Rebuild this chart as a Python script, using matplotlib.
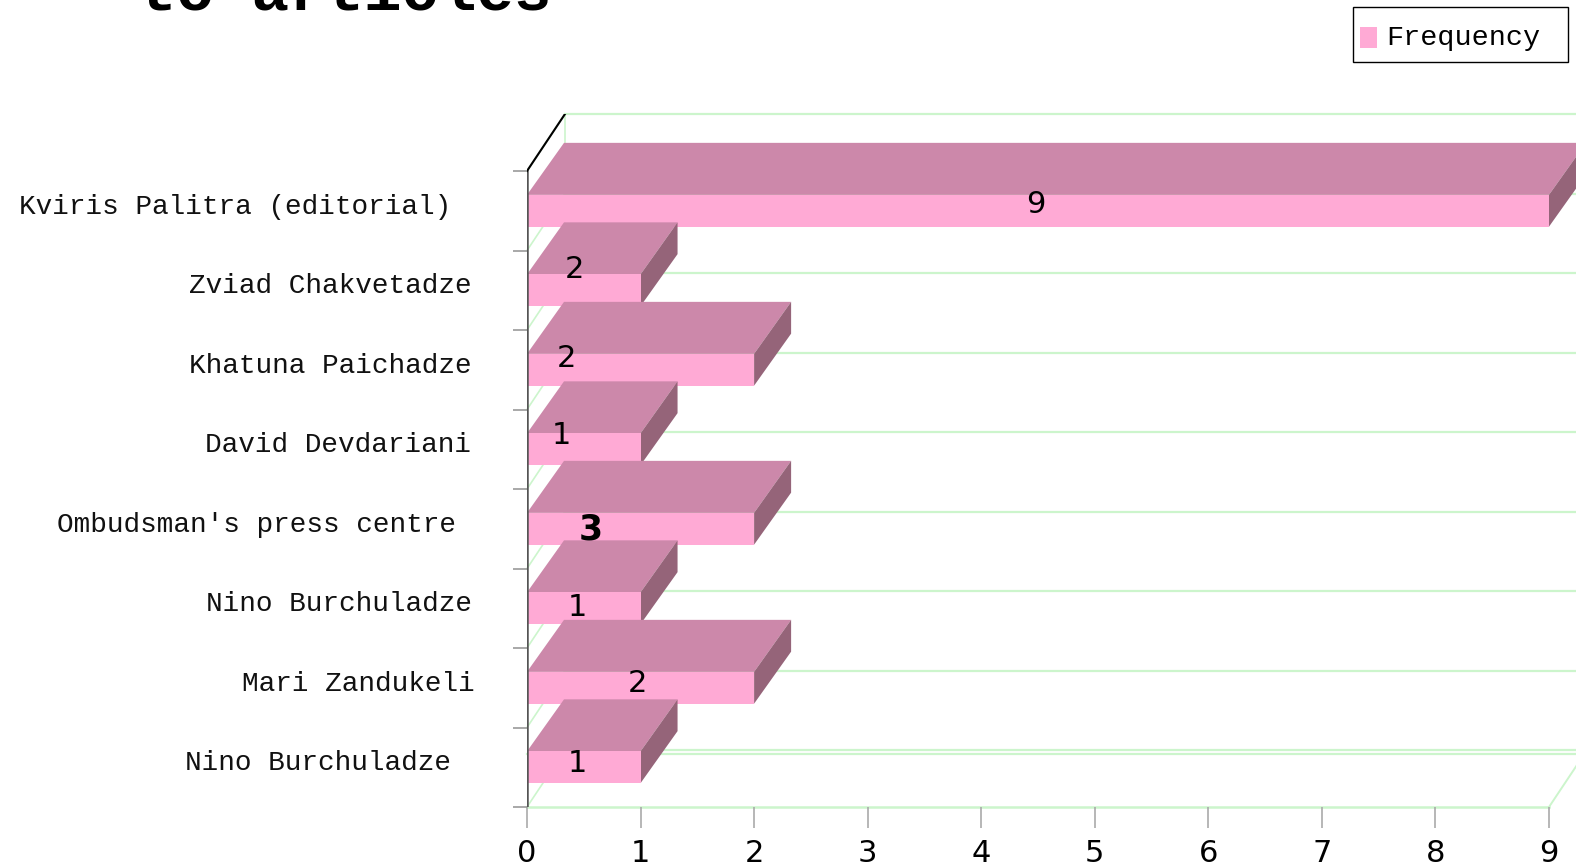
import matplotlib
matplotlib.use("Agg")
import matplotlib.pyplot as plt
from matplotlib.patches import Polygon, Rectangle
from matplotlib.lines import Line2D

# ---------------- data ----------------
categories = ["Kviris Palitra (editorial)", "Zviad Chakvetadze", "Khatuna Paichadze",
              "David Devdariani", "Ombudsman's press centre", "Nino Burchuladze",
              "Mari Zandukeli", "Nino Burchuladze"]
bar_lengths = [9, 1, 2, 1, 2, 1, 2, 1]
shown_values = ["9", "2", "2", "1", "3", "1", "2", "1"]
x_ticks = [0, 1, 2, 3, 4, 5, 6, 7, 8, 9]
series_name = "Frequency"
title_text = "to articles"

# ---------------- style ----------------
front_c = "#FFAAD5"
top_c = "#CC88AA"
side_c = "#956479"
grid_c = "#CCF5CC"
W, H = 1576, 866
X0, YB, YT = 527, 807, 113.6          # plot origin / floor / back-top in pixels
px_x = (1549 - 527) / 9              # pixels per value unit
px_y = (807 - 171) / 8               # pixels per category row
bdx, bdy = 37 / px_x, 52 / px_y      # bar depth
wdx, wdy = 38 / px_x, 57 / px_y      # wall depth
half_h = 0.2
# label placement (data x, row offset) and right edges of category labels (px)
val_x = [4.48, 0.415, 0.345, 0.30, 0.557, 0.442, 0.973, 0.442]
val_dy = [-0.083, -0.261, -0.136, -0.175, 0.013, -0.013, -0.053, -0.041]
cat_right_px = [451, 472, 472, 471, 456, 472, 475, 451]

mono = ["Liberation Mono", "DejaVu Sans Mono"]
narrow = ["Liberation Sans Narrow", "DejaVu Sans"]

fig = plt.figure(figsize=(W / 100, H / 100), dpi=100)
ax = fig.add_axes([X0 / W, (H - YB) / H, (W - X0) / W, (YB - YT) / H])
ax.set_xlim(0, (W - X0) / px_x)
ax.set_ylim(7.5, 7.5 - (YB - YT) / px_y)
for s in ax.spines.values():
    s.set_visible(False)

n = len(categories)
# back wall grid lines
for k in range(n + 1):
    yb = k - 0.5 - wdy
    ax.add_line(Line2D([wdx, 20], [yb, yb], color=grid_c, lw=1.6, clip_on=False, zorder=1))
    ax.add_line(Line2D([0, wdx], [k - 0.5, yb], color=grid_c, lw=1.2, clip_on=False, zorder=1))
floor_back = 7.5 - 53 / px_y
ax.add_line(Line2D([0, 20], [floor_back, floor_back], color=grid_c, lw=1.6, zorder=1, clip_on=False))
ax.add_line(Line2D([wdx, wdx], [-0.5 - wdy, 7.5 - wdy], color=grid_c, lw=1.2, zorder=1))
ax.add_line(Line2D([-0.02, -0.02], [-0.5, 7.5], color=grid_c, lw=1.2, zorder=1))
# floor
ax.add_line(Line2D([0, 9], [7.5, 7.5], color=grid_c, lw=1.8, zorder=1, clip_on=False))
ax.add_line(Line2D([9, 9 + wdx], [7.5, 7.5 - wdy], color=grid_c, lw=1.4, zorder=1, clip_on=False))

# bars
for i, v in enumerate(bar_lengths):
    yt, yb_ = i - half_h, i + half_h
    z = 3 + i * 0.01
    ax.add_patch(Polygon([(0, yt), (v, yt), (v + bdx, yt - bdy), (bdx, yt - bdy)],
                         closed=True, fc=top_c, ec="none", zorder=z, clip_on=False))
    ax.add_patch(Polygon([(v, yt), (v, yb_), (v + bdx, yb_ - bdy), (v + bdx, yt - bdy)],
                         closed=True, fc=side_c, ec="none", zorder=z, clip_on=False))
    ax.add_patch(Rectangle((0, yt), v, yb_ - yt, fc=front_c, ec="none", zorder=z, clip_on=False))
    big = shown_values[i] == "3"
    ax.text(val_x[i], i + val_dy[i], shown_values[i], ha="center", va="center",
            fontsize=25 if big else 22, family=narrow,
            fontweight="semibold" if big else "normal", color="black", zorder=10)

# front axis line and corner
ax.add_line(Line2D([0, 0], [-0.5, 7.5], color="#555555", lw=1.8, zorder=6))
ax.add_line(Line2D([0, wdx], [-0.5, -0.5 - wdy], color="black", lw=1.5, zorder=6))

# y ticks at row boundaries
ax.set_yticks([k - 0.5 for k in range(n + 1)])
ax.set_yticklabels([])
ax.tick_params(axis="y", length=10, color="#999999", width=1.2)
ax.set_xticks(x_ticks)
ax.set_xticklabels([str(t) for t in x_ticks], family=narrow, fontsize=22)
ax.tick_params(axis="x", length=15, color="#AAAAAA", width=1.2, pad=8)

# category labels
for i, c in enumerate(categories):
    ax.text((cat_right_px[i] - X0) / px_x, i - 0.05, c, ha="right", va="center",
            family=mono, fontsize=20, color="#111111", clip_on=False)

# title (partially off the top, as in the original)
fig.text(139 / W, 1 - 9 / H, title_text, ha="left", va="baseline",
         family=mono, fontweight="bold", fontsize=45, color="black")

# legend (drawn as a box in figure pixels)
fig.add_artist(Rectangle((1353 / W, 1 - 62 / H), 215 / W, 55 / H, transform=fig.transFigure,
                         fc="white", ec="black", lw=1.0))
fig.add_artist(Rectangle((1360 / W, 1 - 48 / H), 17 / W, 21 / H, transform=fig.transFigure,
                         fc=front_c, ec="none"))
fig.text(1386 / W, 1 - 38 / H, series_name, ha="left", va="center",
         family=mono, fontsize=20.5, color="black")

fig.savefig("out.png", dpi=100)
